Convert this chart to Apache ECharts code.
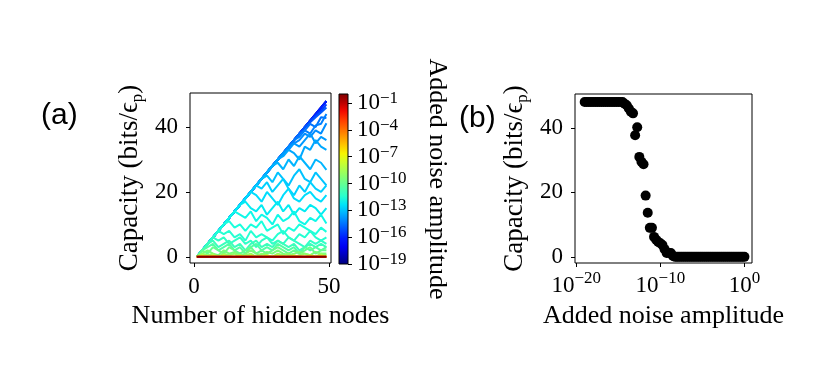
<!DOCTYPE html>
<html>
<head>
<meta charset="utf-8">
<script src="https://cdn.jsdelivr.net/npm/echarts@6.0.0/dist/echarts.min.js"></script>
<style>
  html, body { margin: 0; padding: 0; background: #fff; }
  #chart { width: 831px; height: 382px; }
</style>
</head>
<body>
<div id="chart"></div>
<script>
// (a) capacity vs number of hidden nodes, one line per noise level (log10 of amplitude)
const nodes = [1, 3, 5, 7, 9, 11, 13, 15, 17, 19, 21, 23, 25, 27, 29, 31, 33, 35, 37, 39, 41, 43, 45, 47, 49];
const lineNoiseExp = [-19, -18, -17, -16, -15.5, -15, -14.5, -14.25, -14, -13.75, -13.5, -13.25, -13,
  -12.75, -12.5, -12.25, -12, -11.75, -11.5, -11.25, -11, -10.5, -10, -9.5, -9, -8, -6, -4, -2, 0];
const lineCapacity = [
  [0, 2, 4, 6, 8, 10, 12, 14, 16, 18, 20, 22, 24, 26, 28, 30, 32, 34, 36, 38, 40, 42, 44, 46, 48],
  [0, 2, 4, 6, 8, 10, 12, 14, 16, 18, 20, 22, 24, 26, 28, 30, 32, 34, 36, 38, 40, 42, 44, 46, 48],
  [0, 2, 4, 6, 8, 10, 12, 14, 16, 18, 20, 22, 24, 26, 28, 30, 32, 34, 36, 38, 40, 42, 44, 46, 48],
  [0, 2, 4, 6, 8, 10, 12, 14, 16, 18, 20, 22, 24, 26, 28, 30, 32, 34, 36, 38, 40, 42, 44, 46, 48],
  [0, 2, 4, 6, 8, 10, 12, 14, 16, 18, 20, 22, 24, 26, 28, 30, 32, 34, 36, 38, 40, 42, 43.5, 45, 47],
  [0, 2, 4, 6, 8, 10, 12, 14, 16, 18, 20, 22, 24, 26, 28, 30, 32, 34, 36, 38, 40, 41.5, 43, 44.5, 46],
  [0, 2, 4, 6, 8, 10, 12, 14, 16, 18, 20, 22, 24, 26, 28, 30, 32, 34, 36, 38, 39, 41, 40, 43, 42.8],
  [0, 2, 4, 6, 8, 10, 12, 14, 16, 18, 20, 22, 24, 26, 28, 30, 32, 34, 36, 37, 39, 38, 40.5, 41, 44],
  [0, 2, 4, 6, 8, 10, 12, 14, 16, 18, 20, 22, 24, 26, 28, 30, 32, 34, 35, 36, 38, 37, 39, 38, 41.2],
  [0, 2, 4, 6, 8, 10, 12, 14, 16, 18, 20, 22, 24, 26, 28, 30, 32, 33, 35, 34, 36, 38, 35, 37, 36],
  [0, 2, 4, 6, 8, 10, 12, 14, 16, 18, 20, 22, 24, 26, 28, 30, 31, 33, 32, 30, 34, 33, 36, 34, 33],
  [0, 2, 4, 6, 8, 10, 12, 14, 16, 18, 20, 22, 24, 26, 28, 29, 27, 30, 28, 31, 29, 27, 30, 29, 26.8],
  [0, 2, 4, 6, 8, 10, 12, 14, 16, 18, 20, 22, 24, 25, 23, 26, 24, 22, 25, 27, 24, 23, 26, 24, 22],
  [0, 2, 4, 6, 8, 10, 12, 14, 16, 18, 20, 22, 21, 23, 20, 22, 24, 21, 19, 22, 20, 23, 21, 20, 22],
  [0, 2, 4, 6, 8, 10, 12, 14, 16, 18, 20, 19, 17, 20, 18, 16, 19, 21, 18, 17, 19, 20, 18, 17, 19],
  [0, 2, 4, 6, 8, 10, 12, 14, 16, 17, 15, 14, 16, 13, 15, 17, 14, 16, 13, 15, 14, 16, 15, 13, 15],
  [0, 2, 4, 6, 8, 10, 12, 14, 13, 12, 14, 11, 13, 12, 10, 13, 11, 12, 14, 11, 10, 12, 11, 13, 10.3],
  [0, 2, 4, 6, 8, 10, 11, 9, 10, 8, 10, 9, 11, 8, 9, 10, 7, 9, 8, 10, 9, 8, 7, 9, 7.7],
  [0, 2, 4, 6, 8, 7, 8, 6, 7, 5, 8, 6, 7, 6, 5, 7, 8, 6, 5, 7, 6, 8, 6, 5, 6],
  [0, 2, 4, 6, 5, 6, 4, 5, 6, 4, 5, 3, 5, 6, 4, 5, 4, 6, 5, 4, 3, 5, 4, 5, 4],
  [0, 2, 4, 5, 3, 4, 5, 3, 4, 2, 4, 5, 3, 4, 3, 5, 4, 3, 4, 2, 3, 4, 3, 4, 3],
  [0, 2, 3, 4, 2, 3, 4, 2, 3, 1, 3, 4, 2, 3, 2, 4, 3, 2, 3, 1, 3, 2, 3, 2, 3],
  [0, 2, 1, 3, 2, 1, 3, 2, 1, 2, 3, 1, 2, 1, 2, 3, 2, 1, 2, 1, 2, 3, 1, 2, 2],
  [0, 1, 2, 1, 0.5, 2, 1, 1.5, 0.5, 1, 2, 1, 0.5, 1.5, 1, 2, 1, 0.5, 1, 1.5, 1, 0.5, 1.5, 1, 1],
  [0, 1, 0.5, 1, 0, 1, 0.5, 1, 0, 0.5, 1, 0, 1, 0.5, 0, 1, 0.5, 1, 0, 0.5, 1, 0.5, 0, 1, 0.5],
  [0, 0.5, 0, 0.5, 0, 0.5, 0, 0, 0.5, 0, 0.5, 0, 0, 0.5, 0, 0.5, 0, 0, 0.5, 0, 0, 0.5, 0, 0.5, 0],
  [0, 0, 0, 0, 0, 0, 0, 0, 0, 0, 0, 0, 0, 0, 0, 0, 0, 0, 0, 0, 0, 0, 0, 0, 0],
  [0, 0, 0, 0, 0, 0, 0, 0, 0, 0, 0, 0, 0, 0, 0, 0, 0, 0, 0, 0, 0, 0, 0, 0, 0],
  [0, 0, 0, 0, 0, 0, 0, 0, 0, 0, 0, 0, 0, 0, 0, 0, 0, 0, 0, 0, 0, 0, 0, 0, 0],
  [0, 0, 0, 0, 0, 0, 0, 0, 0, 0, 0, 0, 0, 0, 0, 0, 0, 0, 0, 0, 0, 0, 0, 0, 0],
];

// (b) capacity vs added noise amplitude (log10)
const noiseExp = [-19, -18.75, -18.5, -18.25, -18, -17.75, -17.5, -17.25, -17, -16.75, -16.5, -16.25,
  -16, -15.75, -15.5, -15.25, -15, -14.75, -14.5, -14.25, -14, -13.75, -13.5, -13.25, -13, -12.75,
  -12.5, -12.25, -12, -11.75, -11.5, -11.25, -11, -10.75, -10.5, -10.25, -10, -9.75, -9.5, -9.25,
  -9, -8.75, -8.5, -8.25, -8, -7.75, -7.5, -7.25, -7, -6.75, -6.5, -6.25, -6, -5.75, -5.5, -5.25,
  -5, -4.75, -4.5, -4.25, -4, -3.75, -3.5, -3.25, -3, -2.75, -2.5, -2.25, -2, -1.75, -1.5, -1.25,
  -1, -0.75, -0.5, -0.25, 0];
const capacity = [48, 48, 48, 48, 48, 48, 48, 48, 48, 48, 48, 48,
  48, 48, 48, 48, 48, 48, 48, 47.5, 47, 46, 45, 44.5, 37.7, 40.2,
  31, 29.5, 28.7, 19, 13.7, 9, 9, 6.2, 5.3, 4.6, 4.2, 3.7, 2.4, 1.2,
  1.2, 1.2, 0.3, 0, 0, 0, 0, 0, 0, 0, 0, 0, 0, 0, 0, 0,
  0, 0, 0, 0, 0, 0, 0, 0, 0, 0, 0, 0, 0, 0, 0, 0,
  0, 0, 0, 0, 0];

// tick labels
const capTicks = [0, 20, 40];
const nodeTicks = [0, 50];
const noiseTicks = [-20, -10, 0];
const cbarTicks = [-19, -16, -13, -10, -7, -4, -1];
const cbarMin = -19;
const cbarMax = 0;

const SERIF = 'Liberation Serif';
const SANS = 'Liberation Sans';

// matplotlib jet
function jet(t) {
  const seg = (pts) => {
    for (let i = 1; i < pts.length; i++) {
      if (t <= pts[i][0]) {
        const [x0, y0] = pts[i - 1], [x1, y1] = pts[i];
        return y0 + (y1 - y0) * (t - x0) / (x1 - x0);
      }
    }
    return pts[pts.length - 1][1];
  };
  const r = seg([[0, 0], [0.35, 0], [0.66, 1], [0.89, 1], [1, 0.5]]);
  const g = seg([[0, 0], [0.125, 0], [0.375, 1], [0.64, 1], [0.91, 0], [1, 0]]);
  const b = seg([[0, 0.5], [0.11, 1], [0.34, 1], [0.65, 0], [1, 0]]);
  return `rgb(${Math.round(r * 255)},${Math.round(g * 255)},${Math.round(b * 255)})`;
}
const norm = (e) => (e - cbarMin) / (cbarMax - cbarMin);

const pow10 = (v) => v === 0 ? '{b|10}{s|0}' : `{b|10}{s|\u2212${Math.abs(v)}}`;
const powRich = {
  b: { fontFamily: SERIF, fontSize: 23, color: '#000', lineHeight: 32 },
  s: { fontFamily: SERIF, fontSize: 17, color: '#000', verticalAlign: 'top' },
};
const cbarRich = {
  b: { fontFamily: SERIF, fontSize: 23, color: '#000', lineHeight: 26 },
  s: { fontFamily: SERIF, fontSize: 17, color: '#000', verticalAlign: 'top', padding: [0, 0, 0, 0] },
};
const capName = '{t|Capacity (bits/\u03f5}{s|p}{t|)}';
const capRich = {
  t: { fontFamily: SERIF, fontSize: 27, color: '#000', lineHeight: 32 },
  s: { fontFamily: SERIF, fontSize: 17, color: '#000', verticalAlign: 'bottom' },
};

const tickStyle = { show: true, inside: false, length: 4, lineStyle: { color: '#000', width: 1 } };
const labelFont = { fontFamily: SERIF, fontSize: 23, color: '#000' };
const nameFont = { fontFamily: SERIF, fontSize: 26, color: '#000' };

const colorStops = [];
for (let k = 0; k <= 20; k++) {
  colorStops.push({ offset: k / 20, color: jet(1 - k / 20) });
}

const chart = echarts.init(document.getElementById('chart'));

const lineSeries = lineCapacity.map((vals, i) => ({
  type: 'line',
  xAxisIndex: 0,
  yAxisIndex: 0,
  data: nodes.map((n, j) => [n, vals[j]]),
  showSymbol: false,
  symbol: 'none',
  lineStyle: { width: 2, color: jet(norm(lineNoiseExp[i])) },
  itemStyle: { color: jet(norm(lineNoiseExp[i])) },
  z: 2,
}));

chart.setOption({
  animation: false,
  backgroundColor: '#fff',
  title: [
    { text: '(a)', left: 41, top: 101, padding: 0, textStyle: { fontFamily: SANS, fontSize: 30, fontWeight: 'normal', color: '#000' } },
    { text: '(b)', left: 459, top: 104, padding: 0, textStyle: { fontFamily: SANS, fontSize: 30, fontWeight: 'normal', color: '#000' } },
  ],
  grid: [
    { left: 190, top: 93, width: 141, height: 170, show: true, borderColor: '#000', borderWidth: 1, backgroundColor: 'transparent' },
    { left: 339, top: 94, width: 9, height: 170, show: true, borderColor: '#000', borderWidth: 1, backgroundColor: 'transparent', z: 10 },
    { left: 575, top: 94, width: 177, height: 169, show: true, borderColor: '#000', borderWidth: 1, backgroundColor: 'transparent' },
  ],
  xAxis: [
    {
      type: 'value', gridIndex: 0, min: -1.5, max: 50.7,
      axisLine: { show: false, onZero: false },
      axisTick: Object.assign({ customValues: nodeTicks }, tickStyle),
      axisLabel: Object.assign({ customValues: nodeTicks, margin: 12 }, labelFont),
      splitLine: { show: false },
      name: 'Number of hidden nodes', nameLocation: 'middle', nameGap: 40,
      nameTextStyle: nameFont,
    },
    {
      type: 'category', gridIndex: 1, data: ['cbar'], show: false,
    },
    {
      type: 'value', gridIndex: 2, min: -20.15, max: 0.9,
      axisLine: { show: false, onZero: false },
      axisTick: Object.assign({ customValues: noiseTicks }, tickStyle),
      axisLabel: { customValues: noiseTicks, margin: 7, formatter: pow10, rich: powRich },
      splitLine: { show: false },
      name: 'Added noise amplitude', nameLocation: 'middle', nameGap: 40,
      nameTextStyle: nameFont,
    },
  ],
  yAxis: [
    {
      type: 'value', gridIndex: 0, min: -1.9, max: 50.5,
      axisLine: { show: false, onZero: false },
      axisTick: Object.assign({ customValues: capTicks }, tickStyle),
      axisLabel: Object.assign({ customValues: capTicks, margin: 12 }, labelFont),
      splitLine: { show: false },
      name: capName, nameLocation: 'middle', nameRotate: 90, nameGap: 44,
      nameTextStyle: { rich: capRich },
    },
    {
      type: 'value', gridIndex: 1, min: cbarMin, max: cbarMax, position: 'right',
      axisLine: { show: false, onZero: false },
      axisTick: Object.assign({ customValues: cbarTicks }, tickStyle),
      axisLabel: {
        customValues: cbarTicks, margin: 9, formatter: pow10, rich: cbarRich,
        showMinLabel: true, showMaxLabel: true, hideOverlap: false,
      },
      splitLine: { show: false },
      name: 'Added noise amplitude', nameLocation: 'middle', nameRotate: -90, nameGap: 76,
      nameTextStyle: nameFont,
    },
    {
      type: 'value', gridIndex: 2, min: -1.9, max: 50.5,
      axisLine: { show: false, onZero: false },
      axisTick: Object.assign({ customValues: capTicks }, tickStyle),
      axisLabel: Object.assign({ customValues: capTicks, margin: 12 }, labelFont),
      splitLine: { show: false },
      name: capName, nameLocation: 'middle', nameRotate: 90, nameGap: 44,
      nameTextStyle: { rich: capRich },
    },
  ],
  series: lineSeries.concat([
    {
      // colorbar
      type: 'bar', xAxisIndex: 1, yAxisIndex: 1,
      data: [cbarMin], barWidth: '100%',
      itemStyle: { color: { type: 'linear', x: 0, y: 0, x2: 0, y2: 1, colorStops: colorStops } },
      z: 2,
    },
    {
      type: 'scatter', xAxisIndex: 2, yAxisIndex: 2,
      data: noiseExp.map((e, i) => [e, capacity[i]]),
      symbolSize: 10,
      itemStyle: { color: '#000', opacity: 1 },
    },
  ]),
});
</script>
</body>
</html>
